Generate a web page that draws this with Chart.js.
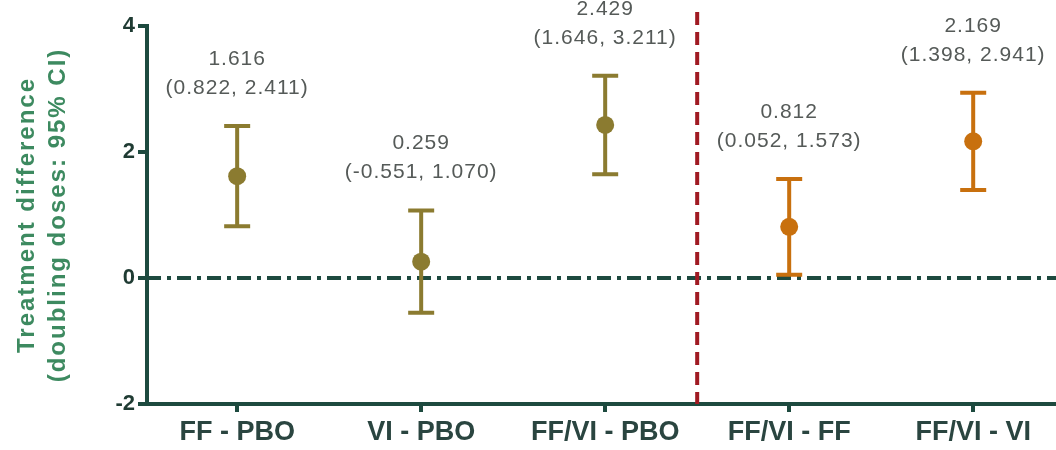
<!DOCTYPE html>
<html>
<head>
<meta charset="utf-8">
<script src="https://cdn.jsdelivr.net/npm/chart.js@4.4.1/dist/chart.umd.min.js"></script>
<style>
  html, body { margin: 0; padding: 0; background: #ffffff; }
  #wrap { width: 1056px; height: 450px; }
</style>
</head>
<body>
<div id="wrap"><canvas id="c" width="1056" height="450"></canvas></div>
<script>
const categories = ['FF - PBO', 'VI - PBO', 'FF/VI - PBO', 'FF/VI - FF', 'FF/VI - VI'];
const estimates = [1.616, 0.259, 2.429, 0.812, 2.169];
const lowerCI = [0.822, -0.551, 1.646, 0.052, 1.398];
const upperCI = [2.411, 1.070, 3.211, 1.573, 2.941];
const yTicks = [-2, 0, 2, 4];
const yTitle = ['Treatment difference', '(doubling doses: 95% CI)'];
const dividerAt = 2.5;

const olive = '#8b7b30';
const orange = '#c8700e';
const pointColors = [olive, olive, olive, orange, orange];
const axisColor = '#1d4a3f';
const tickTextColor = '#1f3b33';
const titleColor = '#3d8a60';
const annoColor = '#555a58';
const redLine = '#a01a22';

const fmt = v => v.toFixed(3);

const overlay = {
  id: 'overlay',
  beforeDatasetsDraw(chart) {
    const {ctx, chartArea, scales: {x, y}} = chart;
    ctx.save();
    const y0 = y.getPixelForValue(0);
    ctx.strokeStyle = axisColor;
    ctx.lineWidth = 4;
    ctx.setLineDash([14, 6, 4, 6]);
    ctx.beginPath();
    ctx.moveTo(chartArea.left, y0);
    ctx.lineTo(chartArea.right, y0);
    ctx.stroke();
    const xd = x.getPixelForValue(dividerAt);
    ctx.strokeStyle = redLine;
    ctx.setLineDash([13, 7]);
    ctx.beginPath();
    ctx.moveTo(xd, 12);
    ctx.lineTo(xd, chartArea.bottom);
    ctx.stroke();
    ctx.setLineDash([]);
    categories.forEach((c, i) => {
      const px = x.getPixelForValue(i);
      const pl = y.getPixelForValue(lowerCI[i]);
      const pu = y.getPixelForValue(upperCI[i]);
      ctx.strokeStyle = pointColors[i];
      ctx.lineWidth = 4;
      ctx.lineCap = 'butt';
      ctx.beginPath();
      ctx.moveTo(px, pl);
      ctx.lineTo(px, pu);
      ctx.moveTo(px - 13, pl);
      ctx.lineTo(px + 13, pl);
      ctx.moveTo(px - 13, pu);
      ctx.lineTo(px + 13, pu);
      ctx.stroke();
    });
    ctx.restore();
  },
  afterDatasetsDraw(chart) {
    const {ctx, scales: {x, y}} = chart;
    ctx.save();
    ctx.fillStyle = annoColor;
    ctx.font = '21px "Liberation Sans", Arial, sans-serif';
    ctx.textAlign = 'center';
    ctx.textBaseline = 'middle';
    ctx.letterSpacing = '1px';
    categories.forEach((c, i) => {
      const px = x.getPixelForValue(i);
      const pu = y.getPixelForValue(upperCI[i]);
      ctx.fillText(fmt(estimates[i]), px, pu - 67);
      ctx.fillText('(' + fmt(lowerCI[i]) + ', ' + fmt(upperCI[i]) + ')', px, pu - 38);
    });
    ctx.restore();
  },
  afterDraw(chart) {
    const {ctx, chartArea} = chart;
    ctx.save();
    ctx.fillStyle = titleColor;
    ctx.font = 'bold 24px "Liberation Sans", Arial, sans-serif';
    ctx.textAlign = 'center';
    ctx.textBaseline = 'middle';
    ctx.letterSpacing = '2px';
    const cy = (chartArea.top + chartArea.bottom) / 2;
    ctx.translate(27, cy);
    ctx.rotate(-Math.PI / 2);
    ctx.fillText(yTitle[0], 0, 0);
    ctx.fillText(yTitle[1], 0, 31);
    ctx.restore();
  }
};

new Chart(document.getElementById('c'), {
  type: 'scatter',
  data: {
    datasets: [{
      data: estimates.map((v, i) => ({x: i, y: v})),
      pointRadius: 9,
      pointBackgroundColor: pointColors,
      pointBorderColor: pointColors,
      pointBorderWidth: 0,
      showLine: false,
      clip: false
    }]
  },
  options: {
    responsive: false,
    animation: false,
    layout: { autoPadding: false, padding: { top: 26, right: 0, left: 0, bottom: 0 } },
    plugins: { legend: { display: false }, tooltip: { enabled: false } },
    scales: {
      x: {
        type: 'linear',
        min: -0.49,
        max: 4.45,
        afterBuildTicks: s => { s.ticks = categories.map((c, i) => ({value: i})); },
        afterFit: s => { s.height = 46; s.paddingLeft = 0; s.paddingRight = 0; },
        border: { display: true, color: axisColor, width: 4 },
        grid: { drawOnChartArea: false, drawTicks: true, tickLength: 8, tickWidth: 4, tickColor: axisColor, color: axisColor, lineWidth: 4 },
        ticks: {
          autoSkip: false,
          maxRotation: 0,
          padding: 4,
          color: '#2a4540',
          font: { family: '"Liberation Sans", Arial, sans-serif', size: 27, weight: 'bold' },
          callback: v => categories[v]
        }
      },
      y: {
        min: -2,
        max: 4,
        afterBuildTicks: s => { s.ticks = yTicks.map(v => ({value: v})); },
        afterFit: s => { s.width = 147; },
        border: { display: true, color: axisColor, width: 4 },
        grid: { drawOnChartArea: false, drawTicks: true, tickLength: 9, tickWidth: 4, tickColor: axisColor, color: axisColor, lineWidth: 4 },
        ticks: {
          padding: 3,
          color: tickTextColor,
          font: { family: '"Liberation Sans", Arial, sans-serif', size: 22, weight: 'bold' }
        }
      }
    }
  },
  plugins: [overlay]
});
</script>
</body>
</html>
